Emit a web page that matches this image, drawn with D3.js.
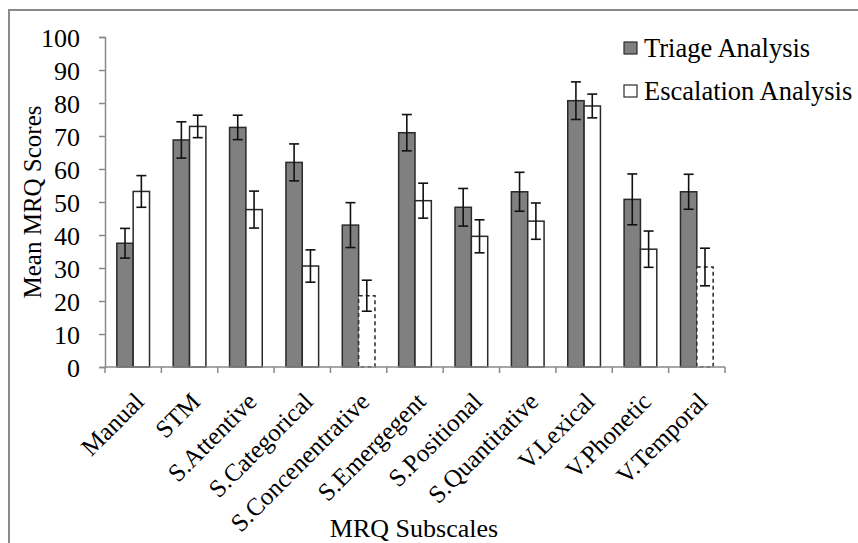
<!DOCTYPE html>
<html lang="en">
<head>
<meta charset="UTF-8">
<title>MRQ Subscales</title>
<script src="https://cdn.jsdelivr.net/npm/d3@7"></script>
<style>
body { margin: 0; background: #fff; }
svg { display: block; font-family: "Liberation Serif", "Times New Roman", serif; }
.frame { fill: none; stroke: #8a8a8a; stroke-width: 2px; }
.axis path, .axis line { stroke: #8a8a8a; stroke-width: 1.5px; }
.axis text { font-family: "Liberation Serif", serif; fill: #000; }
.err { stroke: #111; stroke-width: 1.6px; }
</style>
</head>
<body>
<svg width="858" height="543"></svg>
<script>
var categories = ["Manual", "STM", "S.Attentive", "S.Categorical", "S.Concenentrative",
  "S.Emergegent", "S.Positional", "S.Quantitative", "V.Lexical", "V.Phonetic", "V.Temporal"];
var triage = [37.5, 68.8, 72.6, 62, 43, 71, 48.4, 53.1, 80.7, 50.8, 53.1];
var triageErr = [4.5, 5.5, 3.7, 5.6, 6.8, 5.5, 5.7, 5.9, 5.7, 7.7, 5.3];
var escalation = [53.2, 72.9, 47.7, 30.6, 21.6, 50.4, 39.6, 44.2, 79.1, 35.7, 30.3];
var escalationErr = [4.8, 3.4, 5.6, 4.9, 4.7, 5.3, 5.0, 5.5, 3.6, 5.5, 5.7];
var dashed = ["S.Concenentrative", "V.Temporal"];   // escalation bars drawn dashed
var series = ["Triage Analysis", "Escalation Analysis"];
var colors = ["#808080", "#ffffff"];
var yTicks = [0, 10, 20, 30, 40, 50, 60, 70, 80, 90, 100];

var svg = d3.select("svg");
var margin = {top: 37, left: 105, right: 133, bottom: 176};
var width = 858 - margin.left - margin.right,
    height = 543 - margin.top - margin.bottom;

// outer frame (left and top edges visible)
svg.append("path").attr("class", "frame")
  .attr("d", "M9,543V10H858");

var g = svg.append("g").attr("transform", "translate(" + margin.left + "," + margin.top + ")");

var x = d3.scaleBand().domain(categories).range([0, width]);
var x1 = d3.scaleBand().domain(series).range([x.bandwidth() * 0.21, x.bandwidth() * 0.79]);
var y = d3.scaleLinear().domain([0, 100]).range([height, 0]);

g.append("g").attr("class", "axis")
  .call(d3.axisLeft(y).tickValues(yTicks).tickSize(6).tickPadding(19))
  .call(function(a) { a.selectAll("text").style("font-size", "26px").attr("dy", "0.35em"); });

var data = categories.map(function(c, i) {
  return [
    {cat: c, s: series[0], v: triage[i], e: triageErr[i], dash: false},
    {cat: c, s: series[1], v: escalation[i], e: escalationErr[i], dash: dashed.indexOf(c) >= 0}
  ];
});

var groups = g.selectAll(".grp").data(data).enter().append("g")
  .attr("transform", function(d) { return "translate(" + x(d[0].cat) + ",0)"; });

groups.selectAll("rect").data(function(d) { return d; }).enter().append("rect")
  .attr("x", function(d) { return x1(d.s); })
  .attr("width", x1.bandwidth())
  .attr("y", function(d) { return y(d.v); })
  .attr("height", function(d) { return height - y(d.v); })
  .attr("fill", function(d, i) { return colors[i]; })
  .attr("stroke", "#2a2a2a")
  .attr("stroke-width", 1.5)
  .attr("stroke-dasharray", function(d) { return d.dash ? "4,3" : null; });

var cap = 5;
groups.selectAll(".eb").data(function(d) { return d; }).enter().append("g")
  .attr("class", "err")
  .each(function(d) {
    var cx = x1(d.s) + x1.bandwidth() / 2, e = d3.select(this);
    e.append("line").attr("x1", cx).attr("x2", cx).attr("y1", y(d.v + d.e)).attr("y2", y(d.v - d.e));
    e.append("line").attr("x1", cx - cap).attr("x2", cx + cap).attr("y1", y(d.v + d.e)).attr("y2", y(d.v + d.e));
    e.append("line").attr("x1", cx - cap).attr("x2", cx + cap).attr("y1", y(d.v - d.e)).attr("y2", y(d.v - d.e));
  });

// x axis: tick marks at category boundaries
var xAxis = g.append("g").attr("class", "axis").attr("transform", "translate(0," + height + ")");
xAxis.append("line").attr("x1", 0).attr("x2", width);
xAxis.selectAll(".tk").data(categories.concat([null])).enter().append("line")
  .attr("x1", function(d, i) { return i * x.step(); })
  .attr("x2", function(d, i) { return i * x.step(); })
  .attr("y1", 0).attr("y2", 6);
xAxis.selectAll(".lbl").data(categories).enter().append("text")
  .attr("transform", function(d) { return "translate(" + (x(d) + x.bandwidth() / 2 + 6) + ",30) rotate(-45)"; })
  .attr("text-anchor", "end")
  .attr("dy", "0.35em")
  .style("font-size", "25px")
  .text(function(d) { return d; });

// axis titles
svg.append("text")
  .attr("transform", "translate(41,202) rotate(-90)")
  .attr("text-anchor", "middle")
  .style("font-size", "25px")
  .text("Mean MRQ Scores");

svg.append("text")
  .attr("x", 414).attr("y", 537)
  .attr("text-anchor", "middle")
  .style("font-size", "26px")
  .text("MRQ Subscales");

// legend
var legend = svg.append("g").attr("transform", "translate(624,42)");
series.forEach(function(s, i) {
  var row = legend.append("g").attr("transform", "translate(0," + (i * 43) + ")");
  row.append("rect").attr("width", 13).attr("height", 12)
    .attr("fill", colors[i]).attr("stroke", "#2a2a2a").attr("stroke-width", 1.2);
  row.append("text").attr("x", 20).attr("y", 15).style("font-size", "26.5px").text(s);
});
</script>
</body>
</html>
